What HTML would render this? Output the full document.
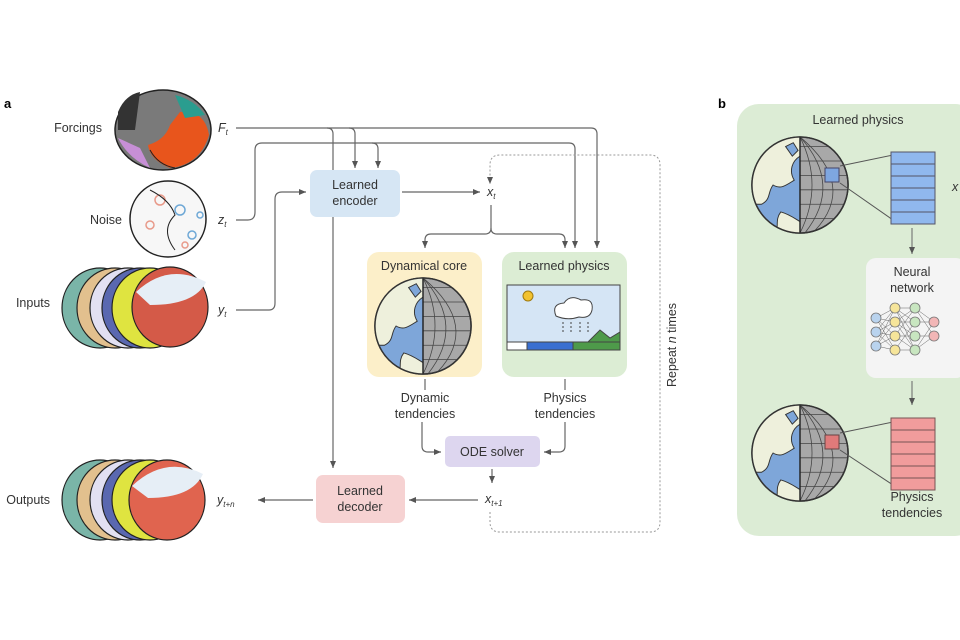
<!DOCTYPE html>
<html><head><meta charset="utf-8"><style>
html,body{margin:0;padding:0;background:#fff;width:960px;height:640px;overflow:hidden}
svg{display:block}
text{font-family:"Liberation Sans",sans-serif;fill:#333}
</style></head><body>
<svg width="960" height="640" viewBox="0 0 960 640" xmlns="http://www.w3.org/2000/svg">
<defs>
<marker id="ah" markerWidth="8" markerHeight="8" refX="7" refY="4" orient="auto" markerUnits="userSpaceOnUse">
<path d="M0,1 L7,4 L0,7 z" fill="#555"/></marker>
<clipPath id="gc"><circle cx="0" cy="0" r="50"/></clipPath>
<symbol id="globe" viewBox="-52 -52 104 104" overflow="visible">
<circle r="50" fill="#a8a8a8" stroke="#333" stroke-width="1.5"/>
<g clip-path="url(#gc)">
<rect x="-50" y="-50" width="50" height="100" fill="#7ea6d9"/>
<path d="M-50,-50 H0 V-30 C-8,-25 -12,-15 -6,-5 C-14,0 -20,5 -28,0 C-34,8 -30,15 -40,20 L-50,20 z" fill="#eef0dc" stroke="#333" stroke-width="1"/>
<path d="M-20,28 C-12,30 -5,35 0,38 V50 H-25 C-22,42 -26,36 -20,28z" fill="#eef0dc" stroke="#333" stroke-width="1"/>
<path d="M-15,-40 l8,-4 l5,8 l-6,6 z" fill="#7ea6d9" stroke="#333"/>
<g stroke="#444" stroke-width="0.8" fill="none">
<path d="M0,-50 Q25,0 0,50"/><path d="M0,-50 Q45,0 5,50"/><path d="M0,-50 Q60,0 15,48"/>
<path d="M0,-40 H45"/><path d="M0,-25 H50"/><path d="M0,-10 H50"/><path d="M0,5 H50"/><path d="M0,20 H50"/><path d="M0,35 H45"/>
</g>
<line x1="0" y1="-50" x2="0" y2="50" stroke="#222" stroke-width="1.5"/>
</g>
<circle r="50" fill="none" stroke="#333" stroke-width="1.5"/>
</symbol>
</defs>

<text x="4" y="108" font-size="13" font-weight="bold" style="fill:#000">a</text>
<text x="718" y="108" font-size="13" font-weight="bold" style="fill:#000">b</text>

<g font-size="12.5">
<text x="102" y="132" text-anchor="end">Forcings</text>
<text x="122" y="224" text-anchor="end">Noise</text>
<text x="50" y="307" text-anchor="end">Inputs</text>
<text x="50" y="504" text-anchor="end">Outputs</text>
</g>

<!-- Forcing globe -->
<ellipse cx="163" cy="130" rx="48" ry="40" fill="#7a7a7a" stroke="#222" stroke-width="1.5"/>
<path d="M180,112 Q205,110 209,135 Q200,165 170,168 Q150,160 148,145 Q165,140 170,125 z" fill="#e8551c"/>
<path d="M175,95 Q195,100 205,115 L185,118 z" fill="#2a9d8f"/>
<path d="M118,112 Q125,95 140,92 L135,130 L118,130 z" fill="#333"/>
<path d="M118,138 Q128,158 150,168 L140,148 z" fill="#c78fd6"/>
<path d="M150,150 Q158,165 175,168" fill="none" stroke="#222"/>
<!-- Noise globe -->
<circle cx="168" cy="219" r="38" fill="#f7f7f7" stroke="#222" stroke-width="1.5"/>
<g fill="none" stroke-width="1.5"><circle cx="180" cy="210" r="5" stroke="#6ea8d6"/><circle cx="192" cy="235" r="4" stroke="#6ea8d6"/><circle cx="150" cy="225" r="4" stroke="#e89a8a"/><circle cx="160" cy="200" r="5" stroke="#e89a8a"/><circle cx="185" cy="245" r="3" stroke="#e89a8a"/><circle cx="200" cy="215" r="3" stroke="#6ea8d6"/></g>
<path d="M150,190 Q170,200 175,215 Q160,230 175,250" fill="none" stroke="#222"/>
<!-- Inputs stack -->
<g stroke="#222" stroke-width="1.2">
<ellipse cx="100" cy="308" rx="38" ry="40" fill="#7ab5a8"/>
<ellipse cx="115" cy="308" rx="38" ry="40" fill="#e2c08e"/>
<ellipse cx="128" cy="308" rx="38" ry="40" fill="#e2e0f2"/>
<ellipse cx="140" cy="308" rx="38" ry="40" fill="#5a68b0"/>
<ellipse cx="150" cy="308" rx="38" ry="40" fill="#dfe440"/>
<ellipse cx="170" cy="307" rx="38" ry="40" fill="#d45a48"/>
</g>
<path d="M136,292 Q168,262 206,282 Q195,305 150,305 z" fill="#e6eef6"/>
<!-- Outputs stack -->
<g stroke="#222" stroke-width="1.2">
<ellipse cx="100" cy="500" rx="38" ry="40" fill="#7ab5a8"/>
<ellipse cx="115" cy="500" rx="38" ry="40" fill="#e2c08e"/>
<ellipse cx="128" cy="500" rx="38" ry="40" fill="#e2e0f2"/>
<ellipse cx="140" cy="500" rx="38" ry="40" fill="#5a68b0"/>
<ellipse cx="150" cy="500" rx="38" ry="40" fill="#dfe440"/>
<ellipse cx="167" cy="500" rx="38" ry="40" fill="#e0644f"/>
</g>
<path d="M132,486 Q165,455 203,474 Q192,498 148,498 z" fill="#e6eef6"/>

<g font-size="12.5" font-style="italic">
<text x="218" y="132">F<tspan font-size="8" dy="3">t</tspan></text>
<text x="218" y="224">z<tspan font-size="8" dy="3">t</tspan></text>
<text x="218" y="314">y<tspan font-size="8" dy="3">t</tspan></text>
<text x="217" y="504">y<tspan font-size="8" dy="3">t+n</tspan></text>
<text x="487" y="196">x<tspan font-size="8" dy="3">t</tspan></text>
<text x="485" y="503">x<tspan font-size="8" dy="3">t+1</tspan></text>
</g>

<g fill="none" stroke="#666" stroke-width="1.2">
<path d="M236,128 H591 Q597,128 597,134 V248" marker-end="url(#ah)"/>
<path d="M236,220 H248 Q255,220 255,212 V150 Q255,143 262,143 H569 Q575,143 575,149 V248" marker-end="url(#ah)"/>
<path d="M327,128 Q333,128 333,134 V468" marker-end="url(#ah)"/>
<path d="M349,128 Q355,128 355,134 V168" marker-end="url(#ah)"/>
<path d="M372,143 Q378,143 378,149 V168" marker-end="url(#ah)"/>
<path d="M236,310 H269 Q275,310 275,303 V199 Q275,192 282,192 H306" marker-end="url(#ah)"/>
<path d="M402,192 H480" marker-end="url(#ah)"/>
<path d="M491,205 V228 Q491,234 485,234 H431 Q425,234 425,240 V248" marker-end="url(#ah)"/>
<path d="M491,228 Q491,234 497,234 H559 Q565,234 565,240 V248" marker-end="url(#ah)"/>
<path d="M425,379 V390"/><path d="M565,379 V390"/>
<path d="M422,422 V446 Q422,452 428,452 H441" marker-end="url(#ah)"/>
<path d="M565,422 V446 Q565,452 559,452 H544" marker-end="url(#ah)"/>
<path d="M492,469 V483" marker-end="url(#ah)"/>
<path d="M478,500 H409" marker-end="url(#ah)"/>
<path d="M313,500 H258" marker-end="url(#ah)"/>
</g>
<path d="M490,512 V522 Q490,532 500,532 H650 Q660,532 660,522 V165 Q660,155 650,155 H500 Q490,155 490,165 V184" fill="none" stroke="#999" stroke-width="1" stroke-dasharray="2,2" marker-end="url(#ah)"/>
<text transform="translate(676,345) rotate(-90)" text-anchor="middle" font-size="12.5">Repeat <tspan font-style="italic">n</tspan> times</text>

<rect x="310" y="170" width="90" height="47" rx="7" fill="#d6e6f4"/>
<text x="355" y="189" font-size="12.5" text-anchor="middle">Learned</text>
<text x="355" y="205" font-size="12.5" text-anchor="middle">encoder</text>
<rect x="316" y="475" width="89" height="48" rx="7" fill="#f6d2d2"/>
<text x="360" y="495" font-size="12.5" text-anchor="middle">Learned</text>
<text x="360" y="511" font-size="12.5" text-anchor="middle">decoder</text>
<rect x="445" y="436" width="95" height="31" rx="5" fill="#ddd6ef"/>
<text x="492" y="456" font-size="12.5" text-anchor="middle">ODE solver</text>

<rect x="367" y="252" width="115" height="125" rx="12" fill="#fcefc9"/>
<text x="424" y="270" font-size="12.5" text-anchor="middle">Dynamical core</text>
<use href="#globe" x="373" y="276" width="100" height="100"/>
<rect x="502" y="252" width="125" height="125" rx="12" fill="#dcedd4"/>
<text x="564" y="270" font-size="12.5" text-anchor="middle">Learned physics</text>
<rect x="507" y="285" width="113" height="65" fill="#d5e5f5" stroke="#444" stroke-width="1"/>
<circle cx="528" cy="296" r="5" fill="#f2c230" stroke="#a07a10"/>
<path d="M556,316 q-5,-12 8,-13 q6,-9 17,-3 q13,-2 11,10 q-2,9 -13,7 q-12,4 -23,-1z" fill="#fff" stroke="#444"/>
<g stroke="#444" stroke-dasharray="2,2"><path d="M563,322v10M571,322v10M580,322v10M588,322v10"/></g>
<path d="M588,342 L600,330 L610,338 L620,332 V342z" fill="#4e9a4a" stroke="#444"/>
<rect x="507" y="342" width="20" height="8" fill="#fff" stroke="#444"/>
<rect x="527" y="342" width="46" height="8" fill="#3a6fd0" stroke="#444"/>
<rect x="573" y="342" width="47" height="8" fill="#4e9a4a" stroke="#444"/>

<g font-size="12.5" text-anchor="middle">
<text x="425" y="402">Dynamic</text><text x="425" y="418">tendencies</text>
<text x="565" y="402">Physics</text><text x="565" y="418">tendencies</text>
</g>

<rect x="737" y="104" width="240" height="432" rx="22" fill="#dcecd5"/>
<text x="858" y="124" font-size="12.5" text-anchor="middle">Learned physics</text>
<use href="#globe" x="750" y="135" width="100" height="100"/>
<use href="#globe" x="750" y="403" width="100" height="100"/>
<rect x="825" y="168" width="14" height="14" fill="#7ea6e0" stroke="#446"/>
<rect x="825" y="435" width="14" height="14" fill="#e07a7a" stroke="#644"/>
<g stroke="#555" stroke-width="1"><path d="M840,166 L893,155 M840,183 L893,220 M840,433 L893,422 M840,450 L893,485"/></g>
<g stroke="#556">
<rect x="891" y="152" width="44" height="72" fill="#90b8ee"/>
<path d="M891,164H935M891,176H935M891,188H935M891,200H935M891,212H935" fill="none"/>
<rect x="891" y="418" width="44" height="72" fill="#f19c9c" stroke="#755"/>
<path d="M891,430H935M891,442H935M891,454H935M891,466H935M891,478H935" fill="none" stroke="#755"/>
</g>
<text x="952" y="191" font-size="12.5" font-style="italic">x</text>
<path d="M912,228 V254" stroke="#666" marker-end="url(#ah)"/>
<rect x="866" y="258" width="100" height="120" rx="10" fill="#f4f4f4"/>
<text x="912" y="276" font-size="12.5" text-anchor="middle">Neural</text>
<text x="912" y="292" font-size="12.5" text-anchor="middle">network</text>
<g stroke="#666" stroke-width="0.5">
<path d="M876,318L895,308M876,318L895,322M876,318L895,336M876,318L895,350M876,332L895,308M876,332L895,322M876,332L895,336M876,332L895,350M876,346L895,308M876,346L895,322M876,346L895,336M876,346L895,350M895,308L915,308M895,308L915,322M895,308L915,336M895,308L915,350M895,322L915,308M895,322L915,322M895,322L915,336M895,322L915,350M895,336L915,308M895,336L915,336M895,336L915,350M895,350L915,322M895,350L915,350M915,308L934,322M915,322L934,322M915,336L934,336M915,350L934,336M915,308L934,336M915,350L934,322"/>
</g>
<g stroke="#777" stroke-width="0.8">
<circle cx="876" cy="318" r="5" fill="#b9d3ee"/><circle cx="876" cy="332" r="5" fill="#b9d3ee"/><circle cx="876" cy="346" r="5" fill="#b9d3ee"/>
<circle cx="895" cy="308" r="5" fill="#f6e59a"/><circle cx="895" cy="322" r="5" fill="#f6e59a"/><circle cx="895" cy="336" r="5" fill="#f6e59a"/><circle cx="895" cy="350" r="5" fill="#f6e59a"/>
<circle cx="915" cy="308" r="5" fill="#c8e6c0"/><circle cx="915" cy="322" r="5" fill="#c8e6c0"/><circle cx="915" cy="336" r="5" fill="#c8e6c0"/><circle cx="915" cy="350" r="5" fill="#c8e6c0"/>
<circle cx="934" cy="322" r="5" fill="#f2b6b6"/><circle cx="934" cy="336" r="5" fill="#f2b6b6"/>
</g>
<path d="M912,381 V405" stroke="#666" marker-end="url(#ah)"/>
<text x="912" y="501" font-size="12.5" text-anchor="middle">Physics</text>
<text x="912" y="517" font-size="12.5" text-anchor="middle">tendencies</text>
</svg>
</body></html>
